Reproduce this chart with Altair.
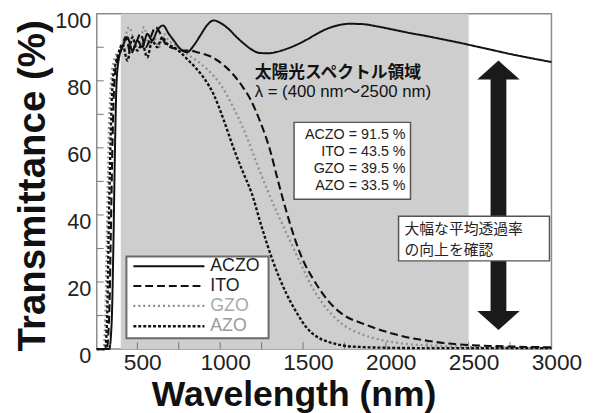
import altair as alt
import pandas as pd

# ---------------- data ----------------
series = ["ACZO", "ITO", "GZO", "AZO"]

aczo_nm = [255, 330, 345, 355, 365, 375, 390, 410, 440, 470, 500, 530, 560, 590, 620, 655, 690, 720, 760,
           800, 840, 880, 920, 960, 1000, 1050, 1100, 1150, 1200, 1240, 1290, 1340, 1400, 1460, 1520, 1580,
           1640, 1700, 1780, 1860, 1950, 2050, 2150, 2250, 2350, 2450, 2550, 2650, 2750, 2850, 3000]
aczo_T = [0, 0, 8, 30, 60, 80, 87, 90, 93, 89, 92, 90, 94, 92, 95, 96.5, 94, 92, 89.5,
          88.5, 90.5, 93.5, 96.5, 98, 97.3, 95.5, 93, 90.8, 89, 88.3, 88.2, 88.6, 89.5, 90.7, 92.2, 93.9,
          95.4, 96.4, 97, 96.9, 96.2, 95.2, 94.2, 93.3, 92.3, 91.3, 90.2, 89.1, 88, 87, 85.6]

ito_nm = [255, 315, 330, 340, 350, 362, 378, 400, 430, 460, 490, 520, 550, 580, 610, 640, 670, 700, 740,
          780, 820, 860, 900, 940, 980, 1030, 1080, 1130, 1180, 1240, 1300, 1350, 1400, 1450, 1500, 1560,
          1650, 1750, 1850, 1950, 2050, 2150, 2250, 2350, 2500, 2650, 2800, 3000]
ito_T = [0, 0, 10, 35, 62, 80, 86, 89, 93, 88, 91, 94, 90, 93, 96, 94, 91, 90, 89.5,
         89, 89, 88.5, 88, 87.3, 86.2, 84.3, 81.8, 78.6, 74.7, 68, 59.5, 50, 41, 33, 26.5, 21,
         14.5, 10, 7.8, 6, 4.5, 3.3, 2.5, 1.8, 1.2, 0.9, 0.7, 0.5]

gzo_nm = [255, 295, 308, 318, 330, 345, 365, 390, 420, 450, 480, 510, 540, 570, 600, 630, 660, 690, 720,
          760, 800, 850, 920, 1000, 1080, 1150, 1220, 1280, 1350, 1420, 1500, 1560, 1620, 1690, 1750,
          1850, 1950, 2050, 2150, 2300, 2500, 2750, 3000]
gzo_T = [0, 0, 12, 40, 68, 82, 87, 89, 92, 96, 92, 90, 96, 91, 93, 90, 94, 92, 91,
         89.5, 88, 86.3, 83.5, 79, 72, 64.5, 55.5, 48, 40, 32.5, 24, 18, 13.5, 9.5, 7,
         4.5, 3, 2, 1.4, 1, 0.7, 0.5, 0.4]

azo_nm = [255, 305, 318, 328, 340, 352, 368, 385, 410, 440, 470, 500, 530, 560, 590, 620, 650, 680, 720,
          760, 800, 850, 905, 960, 1020, 1080, 1140, 1190, 1250, 1320, 1400, 1460, 1520, 1580, 1650,
          1750, 1850, 2000, 2200, 2500, 3000]
azo_T = [0, 0, 10, 38, 65, 80, 85, 88, 91, 86, 93, 89, 91, 87, 92, 90, 93, 91, 90,
         88.5, 86.5, 84, 80.6, 76, 68.5, 60, 52.5, 46.5, 36.5, 26, 16.5, 11, 6.5, 3.8, 2.2,
         1, 0.6, 0.4, 0.3, 0.3, 0.3]

averages = ["ACZO = 91.5 %", "ITO = 43.5 %", "GZO = 39.5 %", "AZO = 33.5 %"]
solar_title = "太陽光スペクトル領域"
solar_range = "λ = (400 nm～2500 nm)"
note_lines = ["大幅な平均透過率", "の向上を確認"]
solar_band = [400, 2500]

x_ticks = [500, 1000, 1500, 2000, 2500, 3000]
y_ticks = [0, 20, 40, 60, 80, 100]
x_minor = [500, 750, 1000, 1250, 1500, 1750, 2000, 2250, 2500, 2750]
y_minor = [10, 20, 30, 40, 50, 60, 70, 80, 90]

# ---------------- layout (data units) ----------------
legend_y = [24.7, 18.8, 12.9, 6.8]
legend_line_x = [476, 905]
legend_text_x = 940
legend_box = dict(x=434, x2=1292, y=3.2, y2=27.6)
avg_box = dict(x=1446, x2=2149, y=44.7, y2=67.6)
avg_text_x = 2119
avg_y = [63.8, 58.8, 53.8, 48.5]
note_box = dict(x=2077, x2=2988, y=26.3, y2=39.6)
note_text_x = 2113
note_y = [35.8, 29.6]
solar_text_x = 1208
solar_y = [82.4, 76.6]
arrow_x = 2680
arrow_shaft = [11.2, 80.5]
arrow_heads = [83.2, 8.5]

# ---------------- build ----------------
rows = []
for name, nms, ts in [("GZO", gzo_nm, gzo_T), ("AZO", azo_nm, azo_T), ("ITO", ito_nm, ito_T), ("ACZO", aczo_nm, aczo_T)]:
    for i, (a, b) in enumerate(zip(nms, ts)):
        rows.append({"series": name, "nm": a, "T": b, "order": i})
df = pd.DataFrame(rows)

xs = alt.Scale(domain=[255, 3000], nice=False, zero=False)
ys = alt.Scale(domain=[0, 100], nice=False, zero=False)
dash_sc = alt.Scale(domain=series, range=[[1, 0], [8, 4], [2, 3], [3, 2]])
col_sc = alt.Scale(domain=series, range=["#111111", "#111111", "#8f8f8f", "#111111"])
sw_sc = alt.Scale(domain=series, range=[2.0, 2.4, 1.4, 3.0])

FONT = "Liberation Sans"
JFONT = "Noto Sans CJK JP"

x_enc = alt.X("nm:Q", scale=xs, axis=alt.Axis(
    values=x_ticks, format="d", title="Wavelength (nm)", titleFont=FONT, titleFontSize=36, titleFontWeight="bold",
    titleColor="#111", titleX=199.5, titleY=57, titleBaseline="alphabetic", titleAlign="center",
    labelFont=FONT, labelFontSize=23, labelColor="#222", labelPadding=3, labelOffset=5,
    labelFlush=False, labelOverlap=False, ticks=False, domain=False, grid=False))
y_enc = alt.Y("T:Q", scale=ys, axis=alt.Axis(
    values=y_ticks, format="d", title="Transmittance (%)", titleFont=FONT, titleFontSize=39, titleFontWeight="bold",
    titleColor="#111", titleX=-53, titleY=174, titleBaseline="alphabetic", titleAlign="center",
    labelFont=FONT, labelFontSize=22, labelColor="#222", labelPadding=6, labelOffset=7,
    labelFlush=False, labelOverlap=False, ticks=False, domain=False, grid=False))

band = alt.Chart(pd.DataFrame({"a": [solar_band[0]], "b": [solar_band[1]]})).mark_rect(
    color="#cecece").encode(x=alt.X("a:Q", scale=xs), x2="b:Q", y=alt.datum(0, scale=ys), y2=alt.datum(100))

lines = alt.Chart(df).mark_line(interpolate="monotone").encode(
    x=x_enc, y=y_enc,
    color=alt.Color("series:N", scale=col_sc, legend=None),
    strokeDash=alt.StrokeDash("series:N", scale=dash_sc, legend=None),
    strokeWidth=alt.StrokeWidth("series:N", scale=sw_sc, legend=None),
    order=alt.Order("order:Q"))

xt = alt.Chart(pd.DataFrame({"v": x_minor})).mark_rule(color="#777", strokeWidth=1).encode(
    x=alt.X("v:Q", scale=xs), y=alt.value(340), y2=alt.value(333))
yt = alt.Chart(pd.DataFrame({"v": y_minor})).mark_rule(color="#777", strokeWidth=1).encode(
    y=alt.Y("v:Q", scale=ys), x=alt.value(0), x2=alt.value(7))

shaft = alt.Chart(pd.DataFrame({"x": [arrow_x], "a": [arrow_shaft[0]], "b": [arrow_shaft[1]]})).mark_rule(
    color="#1a1a1a", strokeWidth=16, strokeCap="butt").encode(
    x=alt.X("x:Q", scale=xs), y=alt.Y("a:Q", scale=ys), y2="b:Q")
head_up = alt.Chart(pd.DataFrame({"x": [arrow_x], "y": [arrow_heads[0]]})).mark_point(
    shape="M -1 0.45 L 0 -0.45 L 1 0.45 Z", filled=True, size=1849, color="#1a1a1a", opacity=1).encode(
    x=alt.X("x:Q", scale=xs), y=alt.Y("y:Q", scale=ys))
head_dn = alt.Chart(pd.DataFrame({"x": [arrow_x], "y": [arrow_heads[1]]})).mark_point(
    shape="M -1 -0.45 L 0 0.45 L 1 -0.45 Z", filled=True, size=1849, color="#1a1a1a", opacity=1).encode(
    x=alt.X("x:Q", scale=xs), y=alt.Y("y:Q", scale=ys))

boxes_df = pd.DataFrame([avg_box, note_box])
boxes = alt.Chart(boxes_df).mark_rect(fill="white", stroke="#555", strokeWidth=1.5).encode(
    x=alt.X("x:Q", scale=xs), x2="x2:Q", y=alt.Y("y:Q", scale=ys), y2="y2:Q")

avg_text = alt.Chart(pd.DataFrame({"t": averages, "y": avg_y, "x": [avg_text_x] * 4})).mark_text(
    align="right", baseline="middle", font=FONT, fontSize=14.5, color="#222").encode(
    x=alt.X("x:Q", scale=xs), y=alt.Y("y:Q", scale=ys), text="t:N")

note_text = alt.Chart(pd.DataFrame({"t": note_lines, "y": note_y, "x": [note_text_x] * 2})).mark_text(
    align="left", baseline="middle", font=JFONT, fontSize=15, color="#222").encode(
    x=alt.X("x:Q", scale=xs), y=alt.Y("y:Q", scale=ys), text="t:N")

solar_t1 = alt.Chart(pd.DataFrame({"t": [solar_title], "y": [solar_y[0]], "x": [solar_text_x]})).mark_text(
    align="left", baseline="middle", font=JFONT, fontSize=17, fontWeight="bold", color="#111").encode(
    x=alt.X("x:Q", scale=xs), y=alt.Y("y:Q", scale=ys), text="t:N")
solar_t2 = alt.Chart(pd.DataFrame({"t": [solar_range], "y": [solar_y[1]], "x": [solar_text_x]})).mark_text(
    align="left", baseline="middle", font=FONT + ", " + JFONT, fontSize=17, color="#111").encode(
    x=alt.X("x:Q", scale=xs), y=alt.Y("y:Q", scale=ys), text="t:N")

leg_box = alt.Chart(pd.DataFrame([legend_box])).mark_rect(fill="white", stroke="#6a6a6a", strokeWidth=2).encode(
    x=alt.X("x:Q", scale=xs), x2="x2:Q", y=alt.Y("y:Q", scale=ys), y2="y2:Q")
leg_df = pd.DataFrame({"series": series, "y": legend_y, "a": [legend_line_x[0]] * 4,
                       "b": [legend_line_x[1]] * 4, "tx": [legend_text_x] * 4})
leg_lines = alt.Chart(leg_df).mark_rule().encode(
    x=alt.X("a:Q", scale=xs), x2="b:Q", y=alt.Y("y:Q", scale=ys),
    color=alt.Color("series:N", scale=col_sc, legend=None),
    strokeDash=alt.StrokeDash("series:N", scale=dash_sc, legend=None),
    strokeWidth=alt.StrokeWidth("series:N", scale=sw_sc, legend=None))
leg_text = alt.Chart(leg_df).mark_text(align="left", baseline="middle", font=FONT, fontSize=18).encode(
    x=alt.X("tx:Q", scale=xs), y=alt.Y("y:Q", scale=ys), text="series:N",
    color=alt.Color("series:N", scale=alt.Scale(domain=series, range=["#222", "#222", "#a8a8a8", "#9a9a9a"]),
                    legend=None))

chart = alt.layer(band, xt, yt, lines, shaft, head_up, head_dn, boxes, avg_text, note_text, solar_t1, solar_t2,
                  leg_box, leg_lines, leg_text).resolve_scale(color="independent").properties(
    width=461, height=340,
    autosize=alt.AutoSizeParams(type="none"),
    padding={"left": 90, "top": 3, "right": 34, "bottom": 62},
    background="white",
).configure_view(stroke="#8c8c8c", strokeWidth=1.5)

chart.save("out.html", embed_options={"renderer": "svg", "actions": False})
